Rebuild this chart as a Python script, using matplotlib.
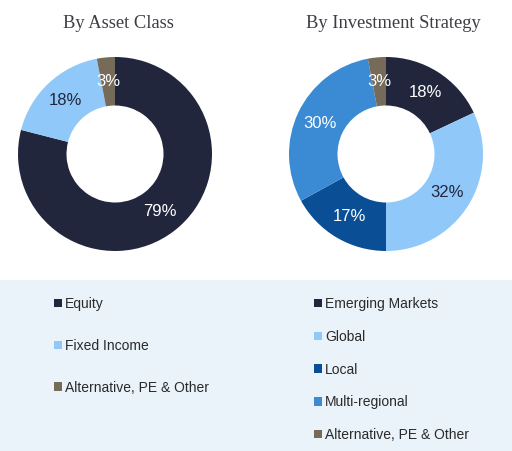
import matplotlib.pyplot as plt
from matplotlib.patches import Rectangle

# data
asset_labels = ['Equity', 'Fixed Income', 'Alternative, PE & Other']
asset_values = [79, 18, 3]
asset_colors = ['#22263d', '#90c9f9', '#766a58']
asset_text_colors = ['white', '#22263d', 'white']

strategy_labels = ['Emerging Markets', 'Global', 'Local', 'Multi-regional', 'Alternative, PE & Other']
strategy_values = [18, 32, 17, 30, 3]
strategy_colors = ['#22263d', '#90c9f9', '#0a4f96', '#3b8ad4', '#766a58']
strategy_text_colors = ['white', '#22263d', 'white', 'white', 'white']

W, H = 512, 451
fig = plt.figure(figsize=(W / 100, H / 100), dpi=100)

# light panel behind the legends
fig.add_artist(Rectangle((0, 0), 1, (H - 280) / H, transform=fig.transFigure,
                         facecolor='#eaf2fa', edgecolor='none', zorder=0))


def donut(cx, cy, r, values, colors, text_colors, title, title_x):
    ax = fig.add_axes([(cx - r) / W, (H - cy - r) / H, 2 * r / W, 2 * r / H])
    wedges, _, autotexts = ax.pie(values, colors=colors, startangle=90, counterclock=False,
                                  autopct='%d%%', pctdistance=0.75,
                                  wedgeprops=dict(width=0.5, linewidth=0))
    for t, c in zip(autotexts, text_colors):
        t.set_color(c)
        t.set_fontsize(12)
        t.set_family('Liberation Sans')
    ax.set_xlim(-1, 1)
    ax.set_ylim(-1, 1)
    fig.text(title_x / W, 1 - 23 / H, title, ha='center', va='center',
             fontsize=13.3, family='Liberation Serif', color='#3d3d45')
    return ax, wedges


ax1, w1 = donut(115, 154, 97, asset_values, asset_colors, asset_text_colors, 'By Asset Class', 118)
ax2, w2 = donut(386, 154, 97, strategy_values, strategy_colors, strategy_text_colors,
                'By Investment Strategy', 393)

leg_kw = dict(frameon=False, loc='upper left', handlelength=0.55, handleheight=0.55,
              handletextpad=0.25, borderpad=0, borderaxespad=0,
              prop={'family': 'Liberation Sans', 'size': 10})
fig.legend(w1, asset_labels, bbox_to_anchor=(54 / W, 1 - 297 / H),
           labelspacing=2.0, labelcolor='#2a2a2a', **leg_kw)
fig.legend(w2, strategy_labels, bbox_to_anchor=(314 / W, 1 - 297 / H),
           labelspacing=1.35, labelcolor='#2a2a2a', **leg_kw)

fig.savefig('out.png', dpi=100)
